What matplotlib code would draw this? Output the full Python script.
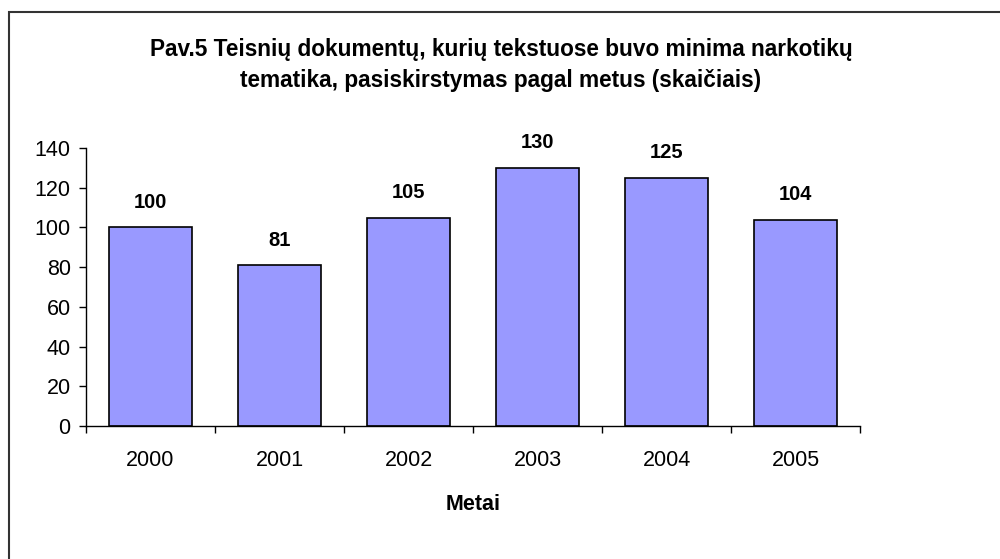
import matplotlib
matplotlib.use("Agg")
import matplotlib.pyplot as plt
from matplotlib.patches import Rectangle

plt.rcParams["font.family"] = ["Liberation Sans", "DejaVu Sans"]

metai = ["2000", "2001", "2002", "2003", "2004", "2005"]
skaicius = [100, 81, 105, 130, 125, 104]

fig = plt.figure(figsize=(10, 5.59), dpi=100)
ax = fig.add_axes([0.086, 0.2379, 0.774, 0.4973])

x = range(len(metai))
ax.bar(x, skaicius, width=0.64, color="#9999FF", edgecolor="black", linewidth=1.2)

for xi, v in zip(x, skaicius):
    ax.annotate(str(v), (xi, v), xytext=(0, 18), textcoords="offset points",
                ha="center", va="center", fontsize=14.5, fontweight="bold")

ax.set_xlim(-0.5, len(metai) - 0.5)
ax.set_ylim(0, 140)
ax.set_yticks(range(0, 141, 20))
ax.set_xticks(list(x))
ax.set_xticklabels(metai)
ax.set_xticks([i - 0.5 for i in range(len(metai) + 1)], minor=True)
ax.tick_params(axis="x", which="major", length=0, pad=17, labelsize=15.5)
ax.tick_params(axis="x", which="minor", length=5, width=1)
ax.tick_params(axis="y", length=5, width=1, labelsize=15.5, pad=6)

for s in ["top", "right"]:
    ax.spines[s].set_visible(False)
ax.spines["left"].set_linewidth(1)
ax.spines["bottom"].set_linewidth(1)

ax.set_xlabel("Metai", fontsize=15.5, fontweight="bold", labelpad=16.5)

fig.text(0.501, 0.8840,
         "Pav.5 Teisnių dokumentų, kurių tekstuose buvo minima narkotikų\n"
         "tematika, pasiskirstymas pagal metus (skaičiais)",
         ha="center", va="center", fontsize=16.3, fontweight="bold",
         linespacing=1.45)

# outer frame (only left and top visible in the picture)
fig.patches.append(Rectangle((0.0085, -0.1), 1.2, 1.0794, transform=fig.transFigure,
                             fill=False, edgecolor="#333333", linewidth=1.5))

fig.savefig("out.png", dpi=100)
